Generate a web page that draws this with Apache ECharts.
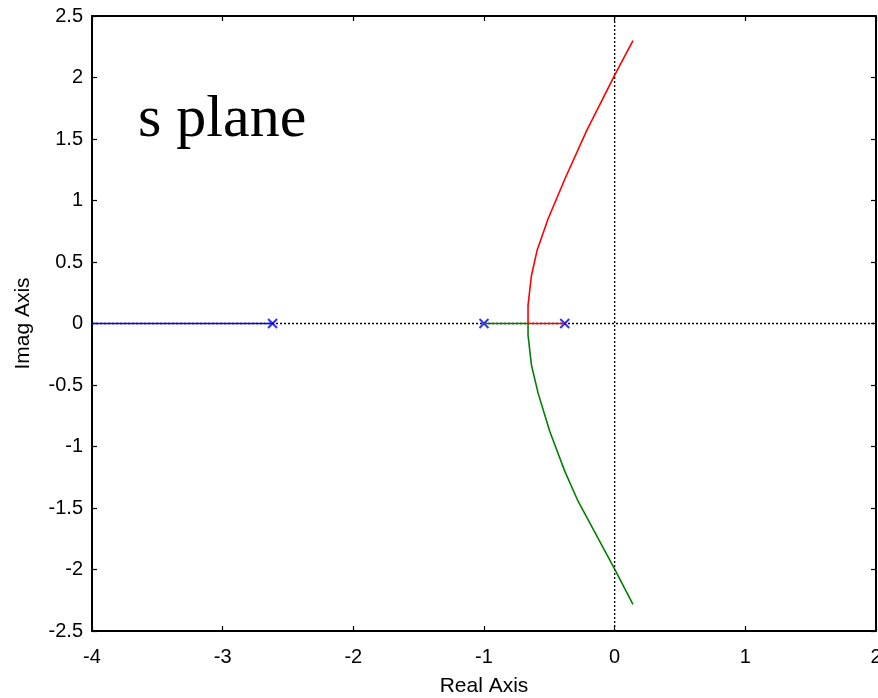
<!DOCTYPE html>
<html>
<head>
<meta charset="utf-8">
<script src="https://cdn.jsdelivr.net/npm/echarts@6/dist/echarts.min.js"></script>
<style>
html, body { margin: 0; padding: 0; background: #fff; overflow: hidden; }
#chart { width: 878px; height: 698px; }
</style>
</head>
<body>
<div id="chart"></div>
<script>
// poles (open loop), on real axis
var poles = [[-2.618, 0], [-1, 0], [-0.382, 0]];
// upper branch (red)
var redBranch = [[-0.382, 0], [-0.663, 0], [-0.663, 0.148], [-0.637, 0.39], [-0.594, 0.593],
    [-0.51, 0.85], [-0.382, 1.173], [-0.216, 1.564], [0, 2.02], [0.14, 2.30]];
// lower branch (green)
var greenBranch = [[-1, 0], [-0.663, 0], [-0.663, -0.095], [-0.637, -0.337], [-0.586, -0.566],
    [-0.497, -0.876], [-0.382, -1.2], [-0.281, -1.443], [-0.178, -1.645], [0, -1.996], [0.14, -2.284]];
// real branch (blue) going to -inf
var blueBranch = [[-2.618, 0], [-4, 0]];
var xTicks = { min: -4, max: 2, step: 1 };
var yTicks = { min: -2.5, max: 2.5, step: 0.5 };

var myChart = echarts.init(document.getElementById("chart"));
var font = "Liberation Sans";
var axisLine = { show: true, onZero: false, lineStyle: { color: "#000", width: 2 } };
var tick = { show: true, inside: true, length: 5, lineStyle: { color: "#000", width: 1.2 } };

var option = {
    animation: false,
    grid: { left: 92, right: 2, top: 16, bottom: 67, containLabel: false, outerBoundsMode: "none" },
    xAxis: [
    {
        type: "value", min: xTicks.min, max: xTicks.max, interval: xTicks.step,
        position: "bottom",
        name: "Real Axis", nameLocation: "middle", nameGap: 45,
        nameTextStyle: { color: "#000", fontSize: 21, fontFamily: font },
        axisLine: axisLine, axisTick: tick,
        axisLabel: { color: "#000", fontSize: 20, fontFamily: font, margin: 16 },
        splitLine: { show: false },
    },
    {
        type: "value", min: xTicks.min, max: xTicks.max, interval: xTicks.step,
        position: "top",
        axisLine: axisLine, axisTick: tick,
        axisLabel: { show: false }, splitLine: { show: false },
    },
    ],
    yAxis: [
    {
        type: "value", min: yTicks.min, max: yTicks.max, interval: yTicks.step,
        position: "left",
        name: "Imag Axis", nameLocation: "middle", nameGap: 58,
        nameTextStyle: { color: "#000", fontSize: 21, fontFamily: font },
        axisLine: axisLine, axisTick: tick,
        axisLabel: { color: "#000", fontSize: 20, fontFamily: font, margin: 9 },
        splitLine: { show: false },
    },
    {
        type: "value", min: yTicks.min, max: yTicks.max, interval: yTicks.step,
        position: "right",
        axisLine: axisLine, axisTick: tick,
        axisLabel: { show: false }, splitLine: { show: false },
    },
    ],
    graphic: [
    {
        type: "text", left: 138, top: 90,
        style: { text: "s plane", fontSize: 60, fontFamily: "Liberation Serif", fill: "#000" },
    },
    ],
    series: [
    {
        // dotted zero lines
        type: "line", data: [[-4, 0], [2, 0]], symbol: "none", silent: true,
        lineStyle: { color: "#000", width: 1.3, type: [2, 2] },
    },
    {
        type: "line", data: [[0, -2.5], [0, 2.5]], symbol: "none", silent: true,
        lineStyle: { color: "#000", width: 1.3, type: [2, 2] },
    },
    {
        name: "blue", type: "line", data: blueBranch, symbol: "none",
        lineStyle: { color: "#0000ff", width: 1.6 },
    },
    {
        name: "green", type: "line", data: greenBranch, symbol: "none",
        lineStyle: { color: "#008000", width: 1.6 },
    },
    {
        name: "red", type: "line", data: redBranch, symbol: "none",
        lineStyle: { color: "#ff0000", width: 1.6 },
    },
    {
        name: "poles", type: "scatter", data: poles,
        symbol: "path://M0,0L10,10M10,0L0,10", symbolSize: 9,
        itemStyle: { color: "transparent", borderColor: "#0000ff", borderWidth: 2 },
    },
    ],
};
myChart.setOption(option);
</script>
</body>
</html>
